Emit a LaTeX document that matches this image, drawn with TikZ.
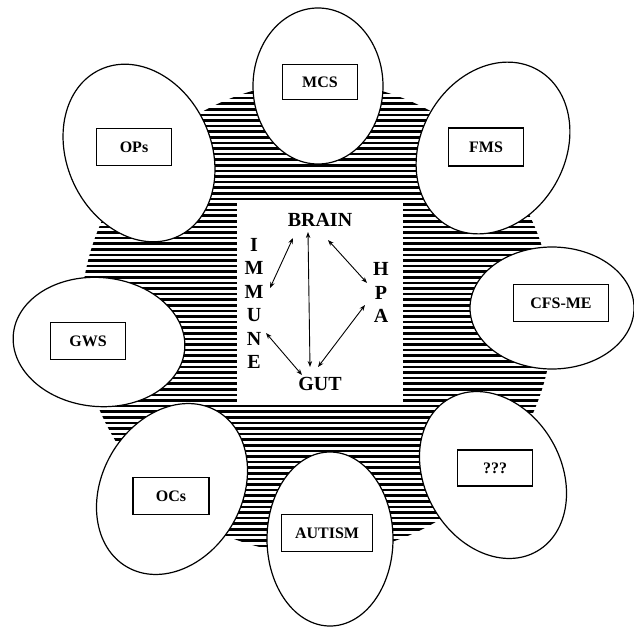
\documentclass[tikz,border=0pt]{standalone}
\usepackage{fontspec}
\setmainfont{Liberation Serif}
\usetikzlibrary{shapes.geometric,arrows.meta}
\begin{document}
\begin{tikzpicture}[x=1pt,y=-1pt,
  sat/.style={ellipse, draw=black, line width=1.2pt, fill=white, inner sep=0pt},
  lab/.style={draw=black, line width=1.3pt, fill=white, inner sep=0pt,
              font=\bfseries\fontsize{16}{18}\selectfont},
  ctext/.style={font=\bfseries\fontsize{20}{23.5}\selectfont, inner sep=0pt, align=center},
  link/.style={line width=0.9pt, {Stealth[length=6pt,width=4.5pt]}-{Stealth[length=6pt,width=4.5pt]}}
]
\useasboundingbox (0,0) rectangle (634,632);
\fill[white] (0,0) rectangle (634,632);
% striped disc
\begin{scope}
  \clip (317,318) circle [radius=236pt];
  \foreach \i in {0,...,86} {
    \fill[black] (70,{80+\i*5.6}) rectangle (565,{80+\i*5.6+2.6});
  }
\end{scope}
% central box
\node[fill=white, draw=none, minimum width=166pt, minimum height=201pt, inner sep=0pt] (core) at (320,302.5) {};
% satellites
\node[sat, minimum width=130pt, minimum height=156pt] (e-mcs) at (318,86) {};
\node[sat, minimum width=144pt, minimum height=184pt, rotate=25] (e-ops) at (139,153) {};
\node[sat, minimum width=144pt, minimum height=180pt, rotate=-30] (e-fms) at (493,148) {};
\node[sat, minimum width=164pt, minimum height=122pt] (e-cfs) at (552,308) {};
\node[sat, minimum width=136pt, minimum height=176pt, rotate=30] (e-q) at (493,475) {};
\node[sat, minimum width=126pt, minimum height=174pt] (e-aut) at (330,539) {};
\node[sat, minimum width=140pt, minimum height=180pt, rotate=-30] (e-ocs) at (172,489) {};
\node[sat, minimum width=172pt, minimum height=129pt, rotate=-5] (e-gws) at (99,342) {};
% label boxes
\node[lab, minimum width=75pt, minimum height=35pt] (mcs) at (320,82) {MCS};
\node[lab, minimum width=75pt, minimum height=37pt] (ops) at (134,147) {OPs};
\node[lab, minimum width=75pt, minimum height=38pt] (fms) at (486,147) {FMS};
\node[lab, minimum width=95pt, minimum height=37pt] (cfs) at (561,303) {CFS-ME};
\node[lab, minimum width=75pt, minimum height=36pt] (q) at (495,468) {???};
\node[lab, minimum width=91pt, minimum height=37pt] (aut) at (327,533) {AUTISM};
\node[lab, minimum width=76pt, minimum height=37pt] (ocs) at (171,496) {OCs};
\node[lab, minimum width=75pt, minimum height=37pt] (gws) at (88,341) {GWS};
% central texts
\node[ctext] (brain) at (320,220) {BRAIN};
\node[ctext] (gut) at (320,384) {GUT};
\node[ctext] (immune) at (254,303.5) {I\\M\\M\\U\\N\\E};
\node[ctext] (hpa) at (381,292.5) {H\\P\\A};
% arrow ends
\coordinate (b1) at (293,238);  \coordinate (i1) at (270,288);
\coordinate (b2) at (308,232);  \coordinate (g2) at (310,367);
\coordinate (b3) at (328,240);  \coordinate (h3) at (367,283);
\coordinate (h4) at (365,305);  \coordinate (g4) at (318,367);
\coordinate (i5) at (266,333);  \coordinate (g5) at (302,375);
\draw[link] (b1) -- (i1);
\draw[link] (b2) -- (g2);
\draw[link] (b3) -- (h3);
\draw[link] (h4) -- (g4);
\draw[link] (i5) -- (g5);
\end{tikzpicture}
\end{document}
